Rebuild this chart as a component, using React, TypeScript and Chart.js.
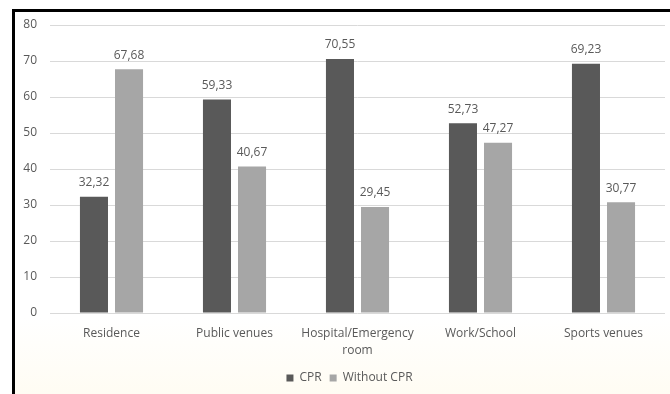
import React, { useEffect, useRef } from "react";
import { Chart, registerables } from "chart.js";

Chart.register(...registerables);

const categories: (string | string[])[] = [
  "Residence",
  "Public venues",
  ["Hospital/Emergency", "room"],
  "Work/School",
  "Sports venues",
];
const cprValues = [32.32, 59.33, 70.55, 52.73, 69.23];
const withoutCprValues = [67.68, 40.67, 29.45, 47.27, 30.77];
const seriesNames = ["CPR", "Without CPR"];
const yTicks = [0, 10, 20, 30, 40, 50, 60, 70, 80];

const FONT = "'Open Sans', 'Noto Sans', sans-serif";
const TEXT = "#595959";

// Writes each bar's value above it, with a decimal comma
const valueLabels = {
  id: "valueLabels",
  afterDatasetsDraw(chart: Chart) {
    const ctx = chart.ctx;
    ctx.save();
    ctx.font = `12px ${FONT}`;
    ctx.fillStyle = TEXT;
    ctx.textAlign = "center";
    ctx.textBaseline = "middle";
    chart.data.datasets.forEach((ds, di) => {
      const meta = chart.getDatasetMeta(di);
      meta.data.forEach((el: any, i: number) => {
        const v = ds.data[i] as number;
        ctx.fillText(v.toFixed(2).replace(".", ","), el.x, el.y - 14);
      });
    });
    ctx.restore();
  },
};

// Value-axis labels, right-aligned a little left of the plot area
const yAxisLabels = {
  id: "yAxisLabels",
  afterDraw(chart: Chart) {
    const ctx = chart.ctx;
    const y = chart.scales.y;
    ctx.save();
    ctx.font = `12px ${FONT}`;
    ctx.fillStyle = TEXT;
    ctx.textAlign = "right";
    ctx.textBaseline = "middle";
    yTicks.forEach((v) => {
      ctx.fillText(String(v), chart.chartArea.left - 13, y.getPixelForValue(v));
    });
    ctx.restore();
  },
};

export default function App() {
  const canvasRef = useRef<HTMLCanvasElement | null>(null);

  useEffect(() => {
    document.body.style.margin = "0";
    const canvas = canvasRef.current;
    if (!canvas) return;
    const chart = new Chart(canvas, {
      type: "bar",
      data: {
        labels: categories,
        datasets: [
          {
            label: seriesNames[0],
            data: cprValues,
            backgroundColor: "#595959",
            categoryPercentage: 0.57,
            barPercentage: 0.8,
          },
          {
            label: seriesNames[1],
            data: withoutCprValues,
            backgroundColor: "#a6a6a6",
            categoryPercentage: 0.57,
            barPercentage: 0.8,
          },
        ],
      },
      options: {
        animation: false,
        responsive: false,
        maintainAspectRatio: false,
        layout: { padding: { left: 19, right: 5, top: 13, bottom: 0 } },
        scales: {
          x: {
            grid: { display: false, drawTicks: false },
            border: { display: false },
            ticks: {
              color: TEXT,
              font: { family: FONT, size: 12, lineHeight: 1.42 },
              padding: 12,
              maxRotation: 0,
              autoSkip: false,
            },
            afterFit(scale: any) {
              scale.height = 51;
            },
          },
          y: {
            min: 0,
            max: 80,
            afterBuildTicks(scale: any) {
              scale.ticks = yTicks.map((v) => ({ value: v }));
            },
            grid: { color: "#d9d9d9", drawTicks: false, lineWidth: 1 },
            border: { display: false },
            ticks: { display: false },
            afterFit(scale: any) {
              scale.width = 16;
            },
          },
        },
        plugins: {
          legend: {
            position: "bottom",
            labels: {
              color: TEXT,
              font: { family: FONT, size: 12 },
              boxWidth: 7,
              boxHeight: 7,
              padding: 8,
            },
          },
          tooltip: { enabled: false },
        },
      },
      plugins: [valueLabels, yAxisLabels],
    });
    return () => chart.destroy();
  }, []);

  return (
    <div
      style={{
        position: "absolute",
        left: 12,
        top: 9,
        width: 655,
        height: 382,
        borderLeft: "3px solid #000",
        borderTop: "3px solid #000",
        background: "linear-gradient(to bottom, #ffffff 0%, #ffffff 80%, #fffcf3 100%)",
      }}
    >
      <canvas ref={canvasRef} width={655} height={382} style={{ display: "block" }} />
    </div>
  );
}
